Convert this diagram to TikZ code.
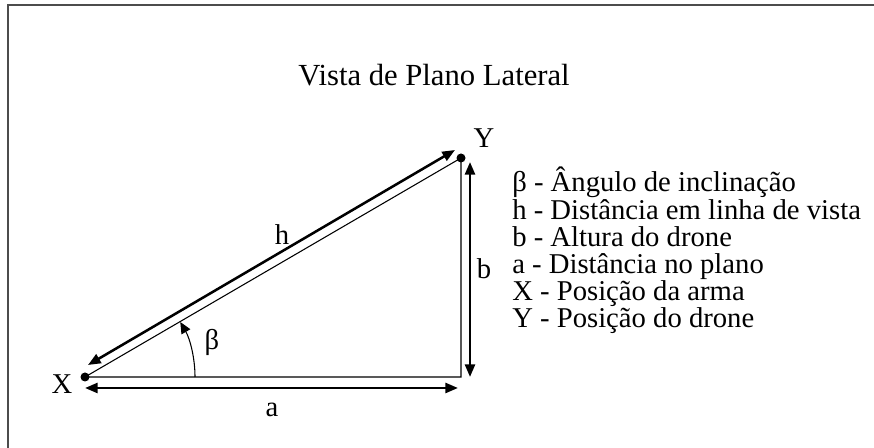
\documentclass[tikz,border=0pt]{standalone}
\usepackage{fontspec}
\setmainfont{Liberation Serif}
\usetikzlibrary{arrows.meta, calc}

\tikzset{
  measure/.style={line width=1.9pt, {Triangle[length=9.5pt,width=7.5pt]}-{Triangle[length=9.5pt,width=7.5pt]}},
  side/.style={line width=0.8pt},
  pointlabel/.style={font=\fontsize{21.5}{25}\selectfont, inner sep=0pt, anchor=base},
  legendline/.style={font=\fontsize{21.5}{25}\selectfont, inner sep=0pt, anchor=base west},
}

\begin{document}
\begin{tikzpicture}[x=.75pt, y=.75pt]
      \useasboundingbox (0,0) rectangle (874,448);
      \draw[line width=1.5pt, black!70] (8,0) -- (8,443) -- (874,443);
      \node[font=\fontsize{23}{28}\selectfont, inner sep=0pt, anchor=base] (title) at (434,362) {Vista de Plano Lateral};
      % triangle
      \coordinate (X) at (85,71);
      \coordinate (Y) at (461,290);
      \coordinate (C) at (461,71);
      \draw[side] (X) -- (Y) -- (C) -- cycle;
      \fill[black] (X) circle (4.5);
      \fill[black] (Y) circle (4.5);
      % measures
      \coordinate (h1) at (88,83);
      \coordinate (h2) at (455,298);
      \coordinate (b1) at (470,286);
      \coordinate (b2) at (470,71);
      \coordinate (a1) at (85,60);
      \coordinate (a2) at (458,60);
      \draw[measure] (h1) -- (h2);
      \draw[measure] (b1) -- (b2);
      \draw[measure] (a1) -- (a2);
      \draw[side, -{Triangle[length=8.5pt,width=7.5pt]}] ($(X)+(110,0)$) arc[start angle=0, end angle=30, radius=110];
      \node[pointlabel] (lX) at (62,54) {X};
      \node[pointlabel] (lY) at (484,300) {Y};
      \node[pointlabel] (la) at (272,31) {a};
      \node[pointlabel] (lb) at (484,169) {b};
      \node[pointlabel] (lh) at (282,203) {h};
      \node[pointlabel] (lbeta) at (212,98) {β};
      % legend
      \foreach \sym/\txt [count = \i from 0] in {β/Ângulo de inclinação, h/Distância em linha de vista, b/Altura do drone, a/Distância no plano, X/Posição da arma, Y/Posição do drone}{
        \node[legendline] (leg\i) at (512, {256 - 27.2*\i}) {\sym{} - \txt};
        }
    \end{tikzpicture}
\end{document}
